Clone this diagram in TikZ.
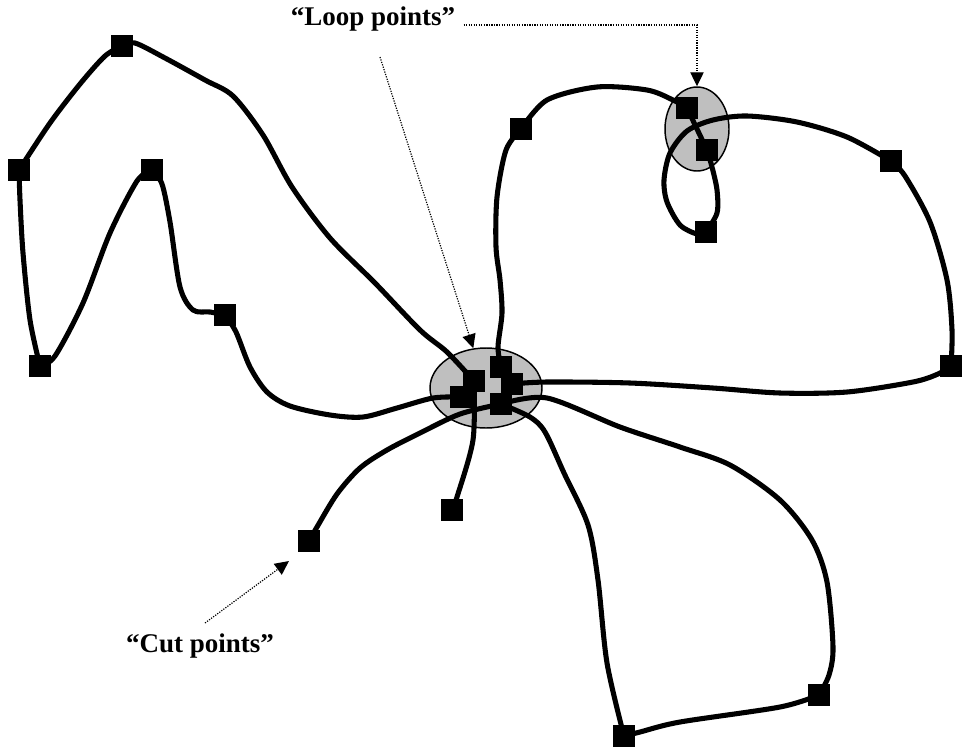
\documentclass[tikz,border=0pt]{standalone}
\usepackage{fontspec}
\setmainfont{Liberation Serif}
\usetikzlibrary{arrows.meta,shapes.geometric}
\pgfdeclarelayer{back}
\pgfdeclarelayer{mid}
\pgfsetlayers{back,mid,main}
\begin{document}
\begin{tikzpicture}[x=0.75pt,y=-0.75pt,
  sq/.style={rectangle,fill=black,draw=none,minimum size=16.5pt,inner sep=0pt},
  curve/.style={line width=3.8pt,line cap=round,line join=round},
  zone/.style={ellipse,draw=black,line width=1.1pt,fill=black!25,inner sep=0pt},
  lbl/.style={font=\bfseries\fontsize{20.25}{24}\selectfont,inner sep=2pt},
  pointer/.style={densely dotted,line width=0.9pt,-{Triangle[length=10.5pt,width=10pt]}}]
\useasboundingbox (0,0) rectangle (966,750);

% points
\node[sq] (A) at (122,46) {};
\node[sq] (B) at (19,170) {};
\node[sq] (C) at (40,366) {};
\node[sq] (D) at (152,170) {};
\node[sq] (E) at (225,315) {};
\node[sq] (F) at (521,129) {};
\node[sq] (G) at (687,108) {};
\node[sq] (H) at (707,150) {};
\node[sq] (I) at (706,232) {};
\node[sq] (J) at (891,161) {};
\node[sq] (K) at (951,366) {};
\node[sq] (L) at (309,541) {};
\node[sq] (M) at (452,510) {};
\node[sq] (N) at (624,736) {};
\node[sq] (O) at (819,695) {};
\node[sq] (c1) at (501,367) {};
\node[sq] (c2) at (474,381) {};
\node[sq] (c3) at (461,397) {};
\node[sq] (c4) at (512,384) {};
\node[sq] (c5) at (501,404) {};

% highlighted zones
\begin{pgfonlayer}{back}
\node[zone,minimum width=84pt,minimum height=60pt] (hub) at (486,388) {};
\node[zone,minimum width=48pt,minimum height=63pt] (loop) at (697,129) {};
\end{pgfonlayer}

% curves
\begin{pgfonlayer}{mid}
\draw[curve] plot[smooth] coordinates {(c2.center) (447,352) (420,330) (375,283) (330,238) (292,187) (263,135) (233,96) (205,80) (165,58) (135,43) (A.center)};
\draw[curve] plot[smooth] coordinates {(A.center) (105,56) (80,84) (50,123) (B.center)};
\draw[curve] plot[smooth] coordinates {(B.center) (20,200) (23,253) (30,320) (C.center)};
\draw[curve] plot[smooth] coordinates {(C.center) (55,356) (83,303) (110,233) (137,181) (D.center)};
\draw[curve] plot[smooth] coordinates {(D.center) (162,184) (170,222) (180,287) (193,310) (210,312) (E.center)};
\draw[curve] plot[smooth] coordinates {(E.center) (236,332) (250,367) (267,392) (290,406) (330,415) (363,417) (397,408) (433,398) (c3.center)};
\draw[curve] plot[smooth] coordinates {(L.center) (317,527) (337,494) (360,468) (387,450) (420,433) (460,414) (c5.center)};
\draw[curve] plot[smooth] coordinates {(M.center) (457,497) (473,440) (c2.center)};
\draw[curve] plot[smooth] coordinates {(c1.center) (498,347) (502,313) (500,280) (496,247) (497,197) (506,150) (F.center)};
\draw[curve] plot[smooth] coordinates {(F.center) (547,100) (597,87) (647,90) (673,100) (G.center)};
\draw[curve] (G.center) -- (H.center);
\draw[curve] plot[smooth] coordinates {(H.center) (712,167) (717,190) (717,213) (I.center)};
\draw[curve] plot[smooth] coordinates {(J.center) (847,137) (797,122) (747,116) (713,120) (687,131) (670,153) (664,180) (667,202) (680,225) (697,234) (I.center)};
\draw[curve] plot[smooth] coordinates {(J.center) (905,176) (930,222) (947,280) (952,330) (K.center)};
\draw[curve] plot[smooth] coordinates {(K.center) (938,374) (913,382) (847,392) (780,393) (713,388) (630,383) (547,382) (c4.center)};
\draw[curve] plot[smooth] coordinates {(c5.center) (547,398) (620,427) (680,447) (730,465) (780,500) (812,540) (827,582) (833,647) (829,675) (O.center)};
\draw[curve] plot[smooth] coordinates {(c5.center) (530,417) (545,432) (564,473) (588,525) (598,580) (607,663) (N.center)};
\draw[curve] plot[smooth] coordinates {(N.center) (640,732) (680,722) (780,707) (O.center)};
\end{pgfonlayer}

% labels and pointers
\node[lbl,anchor=base west] (loopl) at (288,25) {“Loop points”};
\node[lbl] (cutl) at (200,646) {“Cut points”};
\coordinate (p1) at (380,57);
\coordinate (p2) at (205,623);
\coordinate (p3) at (289,561);
\draw[pointer] (p1) -- (hub);
\draw[pointer] ([xshift=4pt]loopl.base east) -| (loop.north);
\draw[pointer] (p2) -- (p3);
\end{tikzpicture}
\end{document}
